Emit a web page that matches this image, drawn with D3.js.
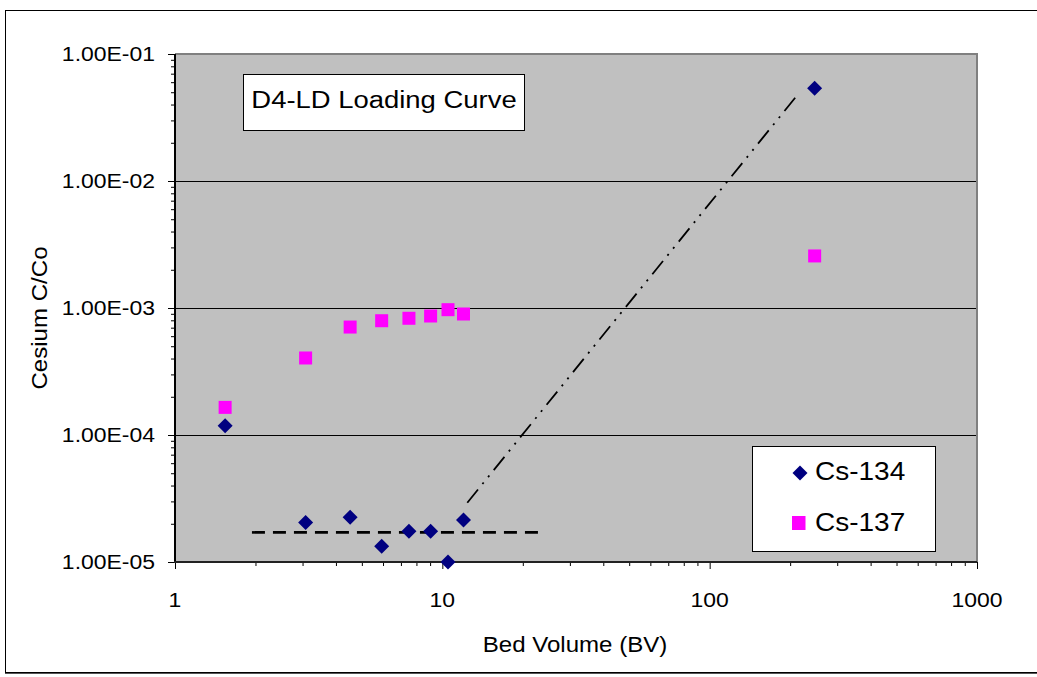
<!DOCTYPE html>
<html>
<head>
<meta charset="utf-8">
<script src="https://cdn.jsdelivr.net/npm/d3@7"></script>
<style>
  html, body { margin: 0; padding: 0; background: #fff; }
  svg { display: block; }
  text { font-family: "Liberation Sans", Arial, sans-serif; fill: #000; }
</style>
</head>
<body>
<svg id="chart" width="1037" height="677"></svg>
<script>
// Bed volumes at which samples were taken
const bedVolumes = [1.54, 3.08, 4.52, 5.93, 7.5, 9.04, 10.5, 12.0, 247];
// Effluent C/Co for each isotope
const cs134 = [1.18e-4, 2.05e-5, 2.25e-5, 1.33e-5, 1.75e-5, 1.75e-5, 1.0e-5, 2.14e-5, 5.37e-2];
const cs137 = [1.65e-4, 4.04e-4, 7.08e-4, 7.94e-4, 8.3e-4, 8.65e-4, 9.7e-4, 8.97e-4, 2.57e-3];
// Baseline (detection level) and breakthrough guide lines
const baselineLine = [[1.94, 1.71e-5], [23.6, 1.71e-5]];
const breakthroughLine = [[12.4, 2.93e-5], [212, 4.7e-2]];
// Axis ticks and labels
const xTicks = [1, 10, 100, 1000];
const yTicks = [1e-5, 1e-4, 1e-3, 1e-2, 1e-1];
const yTickLabels = ["1.00E-05", "1.00E-04", "1.00E-03", "1.00E-02", "1.00E-01"];
const seriesNames = ["Cs-134", "Cs-137"];
const chartTitle = "D4-LD Loading Curve";

const svg = d3.select("#chart");
const SX = 1.12; // horizontal text stretch

const plot = { left: 175, right: 977, top: 54, bottom: 562 };
const x = d3.scaleLog().domain([1, 1000]).range([plot.left, plot.right]);
const y = d3.scaleLog().domain([1e-5, 1e-1]).range([plot.bottom, plot.top]);

function label(g, str, tx, ty, size, anchor, rotate) {
  const t = g.append("g")
    .attr("transform", `translate(${tx},${ty})` + (rotate ? ` rotate(${rotate})` : "") + ` scale(${SX},1)`);
  t.append("text").attr("text-anchor", anchor || "start")
    .style("font-size", size + "px").text(str);
  return t;
}

// outer frame
svg.append("rect").attr("x", 5.5).attr("y", 10.5).attr("width", 1040).attr("height", 662)
  .attr("fill", "#fff").attr("stroke", "#000").attr("stroke-width", 1);
svg.append("line").attr("x1", 5).attr("x2", 1037).attr("y1", 673.5).attr("y2", 673.5)
  .attr("stroke", "#555").attr("stroke-width", 1);

// plot area
svg.append("rect").attr("x", plot.left).attr("y", plot.top)
  .attr("width", plot.right - plot.left).attr("height", plot.bottom - plot.top)
  .attr("fill", "#c0c0c0");

// horizontal gridlines
svg.append("g").selectAll("line").data(yTicks.slice(1, -1)).join("line")
  .attr("x1", plot.left).attr("x2", plot.right)
  .attr("y1", d => Math.round(y(d)) + 0.5).attr("y2", d => Math.round(y(d)) + 0.5)
  .attr("stroke", "#000").attr("stroke-width", 1);

// top and right border
svg.append("path")
  .attr("d", `M${plot.left},${plot.top} H${plot.right} V${plot.bottom}`)
  .attr("fill", "none").attr("stroke", "#808080").attr("stroke-width", 2);

// minor tick values
const xMinor = [];
for (let dec = 1; dec < 1000; dec *= 10) for (let k = 2; k <= 9; k++) xMinor.push(dec * k);
const yMinor = [];
for (let dec = 1e-5; dec < 0.099; dec *= 10) for (let k = 2; k <= 9; k++) yMinor.push(dec * k);

// y axis
const yAxis = svg.append("g").attr("transform", `translate(${plot.left},0)`);
yAxis.call(d3.axisLeft(y).tickValues(yTicks).tickSize(7).tickFormat(""))
  .call(g => g.select(".domain").remove());
yAxis.append("g").call(d3.axisLeft(y).tickValues(yMinor).tickSize(4).tickFormat(""))
  .call(g => g.select(".domain").remove());
yAxis.selectAll("line").attr("stroke", "#000");
svg.append("line").attr("x1", plot.left).attr("x2", plot.left)
  .attr("y1", plot.top).attr("y2", plot.bottom + 1)
  .attr("stroke", "#000").attr("stroke-width", 2);

// x axis
const xAxis = svg.append("g").attr("transform", `translate(0,${plot.bottom})`);
xAxis.call(d3.axisBottom(x).tickValues(xTicks).tickSize(7).tickFormat(""))
  .call(g => g.select(".domain").remove());
xAxis.append("g").call(d3.axisBottom(x).tickValues(xMinor).tickSize(4).tickFormat(""))
  .call(g => g.select(".domain").remove());
xAxis.selectAll("line").attr("stroke", "#000");
svg.append("line").attr("x1", plot.left - 1).attr("x2", plot.right)
  .attr("y1", plot.bottom).attr("y2", plot.bottom)
  .attr("stroke", "#222").attr("stroke-width", 2);

// tick labels
yTicks.forEach((v, i) => label(svg, yTickLabels[i], 155, y(v) + 7, 20.5, "end"));
xTicks.forEach(v => label(svg, String(v), x(v), 607, 20.5, "middle"));

// axis titles
label(svg, "Bed Volume (BV)", 575, 652, 21.5, "middle");
label(svg, "Cesium C/Co", 47, 318, 21.5, "middle", -90);

// guide lines
const lineGen = d3.line().x(d => x(d[0])).y(d => y(d[1]));
svg.append("path").attr("d", lineGen(baselineLine))
  .attr("fill", "none").attr("stroke", "#000").attr("stroke-width", 2.6)
  .attr("stroke-dasharray", "13,8");
svg.append("path").attr("d", lineGen(breakthroughLine))
  .attr("fill", "none").attr("stroke", "#000").attr("stroke-width", 1.8)
  .attr("stroke-dasharray", "17,7,2,7,2,7");

// markers
const diamond = s => `M0,${-s} L${s},0 L0,${s} L${-s},0 Z`;
svg.append("g").selectAll("rect").data(bedVolumes.map((b, i) => [b, cs137[i]])).join("rect")
  .attr("x", d => x(d[0]) - 6.5).attr("y", d => y(d[1]) - 6.5)
  .attr("width", 13).attr("height", 13).attr("fill", "#ff00ff");
svg.append("g").selectAll("path").data(bedVolumes.map((b, i) => [b, cs134[i]])).join("path")
  .attr("transform", d => `translate(${x(d[0])},${y(d[1])})`)
  .attr("d", diamond(7.5)).attr("fill", "#000080");

// title box
svg.append("rect").attr("x", 243.5).attr("y", 74.5).attr("width", 281).attr("height", 56)
  .attr("fill", "#fff").attr("stroke", "#000").attr("stroke-width", 1);
label(svg, chartTitle, 384, 108, 24.5, "middle");

// legend
svg.append("rect").attr("x", 752.5).attr("y", 446.5).attr("width", 183).attr("height", 105)
  .attr("fill", "#fff").attr("stroke", "#000").attr("stroke-width", 1);
svg.append("path").attr("transform", "translate(800,473)").attr("d", diamond(7.5)).attr("fill", "#000080");
svg.append("rect").attr("x", 792).attr("y", 516).attr("width", 13.5).attr("height", 14).attr("fill", "#ff00ff");
label(svg, seriesNames[0], 815, 480, 25, "start");
label(svg, seriesNames[1], 815, 531, 25, "start");
</script>
</body>
</html>
